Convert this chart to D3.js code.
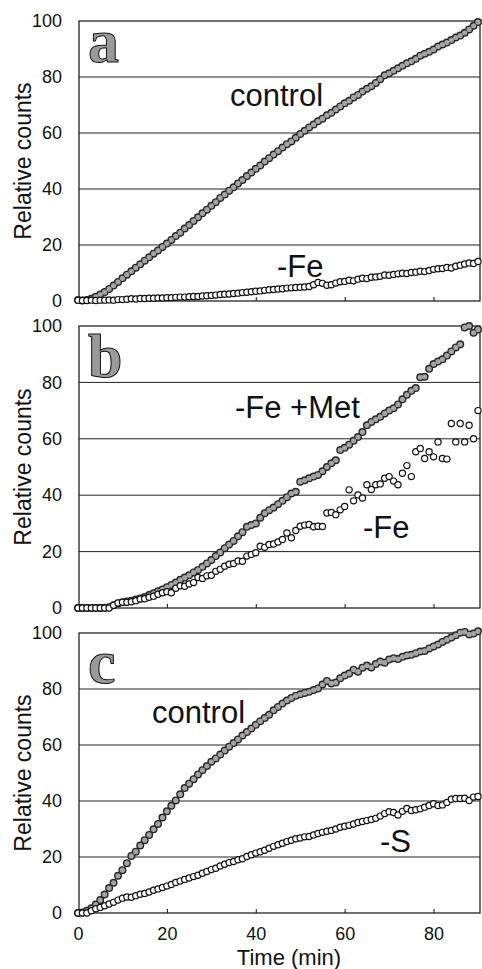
<!DOCTYPE html>
<html>
<head>
<meta charset="utf-8">
<script src="https://cdn.jsdelivr.net/npm/d3@7"></script>
<style>
  body { margin: 0; background: #fff; }
</style>
</head>
<body>
<script>
  // sampling times (min)
  var times = [0,1,2,3,4,5,6,7,8,9,10,11,12,13,14,15,16,17,18,19,20,21,22,23,24,25,26,27,28,29,
               30,31,32,33,34,35,36,37,38,39,40,41,42,43,44,45,46,47,48,49,50,51,52,53,54,55,56,57,58,59,
               60,61,62,63,64,65,66,67,68,69,70,71,72,73,74,75,76,77,78,79,80,81,82,83,84,85,86,87,88,89,90];

  // panel a
  var ctrlA = [0.4,0.2,0.4,0.8,1.5,2.3,3.2,4.3,5.5,6.8,
               8.1,9.4,10.6,11.9,13.1,14.4,15.6,16.9,18.0,19.3,
               20.5,21.8,23.2,24.4,25.9,27.1,28.6,29.9,31.3,32.6,
               34.0,35.3,36.8,38.0,39.4,40.6,42.0,43.2,44.6,45.9,
               47.2,48.4,49.8,51.0,52.3,53.5,54.8,56.0,57.0,58.3,
               59.6,60.8,62.0,63.0,64.2,65.1,66.3,67.2,68.4,69.5,
               70.6,71.5,72.7,73.6,74.8,75.8,76.7,77.9,79.2,80.6,
               81.3,82.2,83.1,84.0,84.9,85.6,86.5,87.6,88.3,89.0,
               89.8,90.9,91.6,92.3,93.2,94.1,94.8,95.8,97.0,98.3,
               99.6];
  var feA = [0.3,0.2,0.2,0.3,0.2,0.3,0.3,0.4,0.3,0.5,
             0.5,0.6,0.8,0.7,0.9,0.9,1.0,1.0,1.1,1.1,
             1.2,1.2,1.3,1.4,1.4,1.5,1.6,1.6,1.8,1.9,
             2.0,2.1,2.3,2.4,2.5,2.7,2.8,3.0,3.1,3.3,
             3.5,3.6,3.8,4.0,4.1,4.3,4.4,4.6,4.7,4.8,
             4.9,5.0,5.2,5.8,6.6,6.3,5.6,5.8,6.4,6.9,
             7.0,7.4,7.2,7.8,8.1,8.0,8.5,8.6,8.8,9.3,
             9.2,9.5,9.7,9.9,9.8,10.2,10.3,10.6,10.5,10.9,
             11.3,11.5,11.6,12.0,11.8,12.4,12.8,13.2,13.6,13.4,
             14.1];

  // panel b
  var metB = [0,0,0,0,0,0,0.1,0.3,1.0,1.6,
              2.0,2.3,2.6,3.0,3.4,3.9,4.6,5.2,5.9,6.6,
              7.4,8.2,9.0,10.0,10.8,11.6,12.6,13.5,14.6,15.8,
              17.0,18.4,19.7,21.2,22.5,23.8,25.4,26.9,28.8,29.4,
              30.0,32.0,33.6,34.7,35.6,36.8,38.0,39.3,40.6,41.2,
              44.8,45.3,46.0,46.6,47.2,48.5,50.0,51.3,52.4,56.0,
              56.8,57.9,59.3,60.6,62.4,64.8,66.0,66.9,67.8,69.0,
              70.0,70.8,72.2,74.0,75.6,77.0,78.0,81.8,82.0,84.8,
              86.5,87.4,88.2,89.5,91.0,92.4,93.5,99.5,100.0,97.6,
              98.8];
  var feB = [0,0,0,0,0,0,0,0,1.0,1.8,
             2.0,2.0,2.2,2.6,3.2,3.3,3.8,4.2,4.9,5.4,
             5.8,5.4,7.0,7.9,7.7,8.5,9.0,10.8,10.5,11.4,
             11.6,13.0,13.7,14.8,15.5,15.8,16.7,16.6,18.4,19.0,
             19.6,21.9,21.5,22.5,22.7,23.4,24.3,26.6,24.9,27.5,
             29.0,29.4,29.6,28.8,29.0,28.9,33.7,33.9,33.1,34.8,
             36.0,41.9,38.0,40.1,39.0,43.7,42.0,43.7,44.0,46.0,
             46.6,45.0,43.7,47.8,50.5,46.6,55.4,56.6,53.0,55.4,
             53.6,58.9,53.0,52.8,65.4,58.9,65.4,58.9,64.8,60.0,
             70.0];

  // panel c
  var ctrlC = [0,0.2,0.8,1.7,3.0,4.6,6.6,8.9,10.8,13.3,
               15.3,17.8,20.4,21.9,24.1,26.0,27.9,29.9,31.8,34.1,
               36.3,38.3,40.2,42.4,44.6,46.2,47.8,49.5,51.0,52.5,
               54.0,55.2,56.6,58.0,59.4,60.7,62.0,63.4,64.6,65.9,
               67.2,68.5,69.6,70.8,72.4,73.6,74.8,75.9,76.8,77.6,
               78.1,78.6,79.0,79.6,80.2,81.6,82.9,82.0,82.3,83.8,
               84.8,85.5,86.9,86.2,87.6,88.4,87.7,88.9,89.8,89.4,
               90.5,91.0,90.7,91.5,92.0,92.2,92.8,93.4,93.6,94.5,
               95.2,95.9,96.8,97.6,98.4,99.2,100.1,100.4,99.5,99.8,
               100.6];
  var sC = [0,0,0,0.8,1.5,2.0,2.6,3.2,3.8,4.6,
            5.3,5.7,5.6,6.2,6.7,7.0,7.5,8.1,8.6,9.1,
            9.6,10.2,10.9,11.4,12.0,12.5,13.0,13.5,14.2,14.8,
            15.5,16.0,16.8,17.4,18.0,18.4,19.0,19.4,20.2,20.8,
            21.4,21.9,22.4,23.1,23.8,24.4,24.9,25.5,26.0,26.5,
            26.8,27.2,27.3,27.9,28.4,28.8,29.2,29.5,30.0,30.6,
            31.0,31.3,31.8,32.3,32.7,33.0,33.4,33.8,34.6,35.5,
            36.2,35.9,35.0,36.3,37.3,36.6,36.9,37.2,37.8,38.4,
            39.0,38.4,38.6,39.5,40.6,40.9,40.9,41.0,40.2,41.4,
            41.6];

  var yTicks = [0, 20, 40, 60, 80, 100];
  var xTicks = [0, 20, 40, 60, 80];
  var letters = ["a", "b", "c"];
  var filledNames = ["control", "-Fe +Met", "control"];
  var openNames = ["-Fe", "-Fe", "-S"];

  var w = 482, h = 969;
  var left = 79, right = 480;
  var sans = "'Liberation Sans', Arial, sans-serif";

  var svg = d3.select("body").append("svg")
              .attr("width", w)
              .attr("height", h)
              .style("font-family", sans);

  var x = d3.scaleLinear().domain([0, 90]).range([78, 478]);

  // layout of each panel (pixels)
  var panels = [
    {top: 21,  bottom: 301, filled: ctrlA, open: feA, letterY: 62,
     fLab: [230, 106], oLab: [277, 277]},
    {top: 326, bottom: 608, filled: metB, open: feB, letterY: 377,
     fLab: [235, 418], oLab: [363, 538]},
    {top: 633, bottom: 913, filled: ctrlC, open: sC, letterY: 683,
     fLab: [152, 723], oLab: [380, 852]}
  ];

  panels.forEach(function(p, k) {
    var y = d3.scaleLinear().domain([0, 100]).range([p.bottom, p.top]);
    var g = svg.append("g");

    // gridlines
    g.selectAll("line.grid")
     .data([20, 40, 60, 80])
     .enter()
     .append("line")
     .attr("x1", left).attr("x2", right)
     .attr("y1", function(d){return y(d);})
     .attr("y2", function(d){return y(d);})
     .attr("stroke", "#222")
     .attr("stroke-width", 1);

    // frame
    g.append("rect")
     .attr("x", left).attr("y", p.top)
     .attr("width", right - left).attr("height", p.bottom - p.top)
     .attr("fill", "none")
     .attr("stroke", "#111")
     .attr("stroke-width", 1.2);

    // y tick labels
    var ya = g.append("g")
              .attr("transform", "translate(78,0)")
              .call(d3.axisLeft(y).tickValues(yTicks).tickSize(0).tickPadding(16));
    ya.select(".domain").remove();
    ya.selectAll("text")
      .style("font-size", "18px")
      .style("font-family", sans)
      .attr("fill", "#111");

    // x ticks (inside), labels only on the last panel
    var xa = g.append("g")
              .attr("transform", "translate(0," + p.bottom + ")")
              .call(d3.axisBottom(x).tickValues(xTicks).tickSize(-4).tickPadding(14)
                      .tickFormat(k === 2 ? d3.format("d") : function(){return "";}));
    xa.select(".domain").remove();
    xa.selectAll("line").attr("stroke", "#111");
    xa.selectAll("text")
      .style("font-size", "18px")
      .style("font-family", sans)
      .attr("fill", "#111");

    // y axis title
    g.append("text")
     .attr("transform", "translate(31," + ((p.top + p.bottom) / 2) + ") rotate(-90)")
     .attr("text-anchor", "middle")
     .style("font-size", "23px")
     .attr("fill", "#111")
     .text("Relative counts");

    // filled series: dark outline pass then grey fill pass
    g.selectAll(null)
     .data(p.filled)
     .enter()
     .append("circle")
     .attr("cx", function(d, i){return x(times[i]);})
     .attr("cy", function(d){return y(d);})
     .attr("r", 4)
     .attr("fill", "#262626");
    g.selectAll(null)
     .data(p.filled)
     .enter()
     .append("circle")
     .attr("cx", function(d, i){return x(times[i]);})
     .attr("cy", function(d){return y(d);})
     .attr("r", 2.6)
     .attr("fill", "#a4a4a4");

    // open series
    g.selectAll(null)
     .data(p.open)
     .enter()
     .append("circle")
     .attr("cx", function(d, i){return x(times[i]);})
     .attr("cy", function(d){return y(d);})
     .attr("r", 3.1)
     .attr("fill", "#fff")
     .attr("stroke", "#111")
     .attr("stroke-width", 1.2);

    // series labels
    g.append("text")
     .attr("x", p.fLab[0]).attr("y", p.fLab[1])
     .style("font-size", "31px")
     .attr("fill", "#111")
     .text(filledNames[k]);
    g.append("text")
     .attr("x", p.oLab[0]).attr("y", p.oLab[1])
     .style("font-size", "31px")
     .attr("fill", "#111")
     .text(openNames[k]);

    // panel letter
    g.append("text")
     .attr("x", 88).attr("y", p.letterY)
     .style("font-family", "'Liberation Serif', 'DejaVu Serif', serif")
     .style("font-weight", "bold")
     .style("font-size", "62px")
     .attr("fill", "#9a9a9a")
     .attr("stroke", "#111")
     .attr("stroke-width", 1)
     .text(letters[k]);
  });

  // x axis title
  svg.append("text")
     .attr("x", 289).attr("y", 965)
     .attr("text-anchor", "middle")
     .style("font-size", "22px")
     .attr("fill", "#111")
     .text("Time (min)");
</script>
</body>
</html>
